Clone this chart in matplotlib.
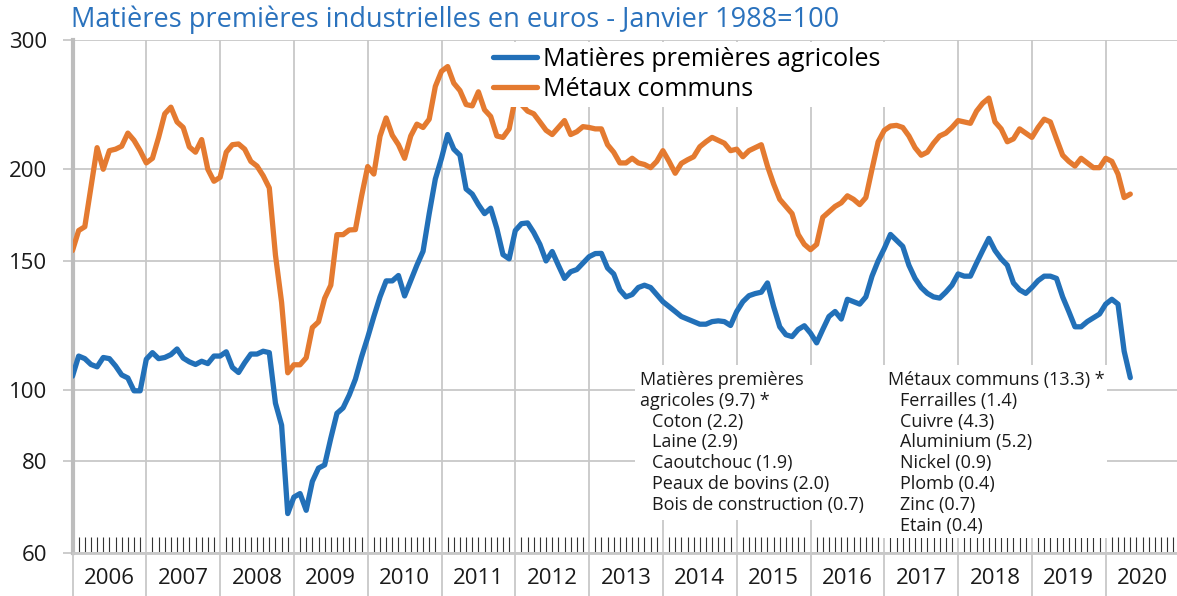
import numpy as np
import matplotlib.pyplot as plt
import matplotlib.transforms as mtransforms
from matplotlib.patches import Rectangle

plt.rcParams['font.family'] = ['Open Sans', 'DejaVu Sans']

# indices mensuels (janvier 1988 = 100), de janvier 2006 a mai 2020
annee_debut = 2006

agricoles = [
    104.5, 111.3, 110.4, 108.4, 107.6, 110.8, 110.4, 107.9, 104.9, 103.9, 99.8, 99.8,    # 2006
    110.2, 112.5, 110.4, 110.8, 111.8, 113.8, 110.6, 109.3, 108.4, 109.5, 108.7, 111.3,  # 2007
    111.3, 112.8, 107.4, 105.7, 109.0, 112.0, 112.0, 113.0, 112.5, 96.0, 89.6, 67.9,     # 2008
    71.5, 72.3, 68.6, 75.1, 78.3, 79.1, 86.0, 93.0, 94.6, 98.5, 103.5, 111.0,            # 2009
    118.0, 126.0, 134.0, 140.9, 140.9, 143.3, 134.4, 141.0, 148.0, 154.6, 174.0, 194.0,  # 2010
    207.0, 223.0, 213.0, 209.0, 188.0, 185.0, 179.0, 174.0, 177.0, 166.0, 153.0, 151.0,  # 2011
    165.0, 168.6, 169.0, 164.0, 158.0, 150.0, 154.5, 148.0, 142.0, 145.0, 146.0, 149.0,  # 2012
    152.0, 153.5, 153.6, 146.7, 144.0, 137.0, 134.0, 135.0, 138.0, 139.0, 138.0, 135.0,  # 2013
    132.0, 130.0, 128.0, 126.0, 125.0, 124.0, 123.0, 123.0, 124.0, 124.3, 124.0, 122.5,  # 2014
    128.0, 132.0, 134.5, 135.4, 136.0, 140.0, 130.0, 122.0, 119.0, 118.3, 121.0, 122.4,  # 2015
    119.6, 116.0, 121.0, 126.0, 128.0, 125.0, 133.0, 132.0, 131.0, 134.0, 143.0, 150.0,  # 2016
    156.0, 163.0, 160.0, 157.0, 148.0, 142.0, 138.0, 135.5, 134.0, 133.5, 136.0, 139.0,  # 2017
    144.0, 143.0, 143.0, 149.0, 155.0, 161.0, 155.0, 151.0, 148.0, 140.0, 137.0, 135.5,  # 2018
    138.0, 141.0, 143.0, 143.0, 142.0, 134.0, 128.0, 122.0, 122.0, 124.0, 125.5, 127.0,  # 2019
    131.0, 133.0, 131.0, 113.0, 104.0,                                                    # 2020
]

metaux = [
    155.0, 165.0, 167.0, 189.0, 214.0, 200.0, 212.0, 213.0, 215.0, 224.0, 219.0, 212.0,  # 2006
    204.0, 207.0, 221.0, 238.0, 243.0, 232.0, 228.0, 214.5, 211.0, 219.5, 200.0, 192.6,  # 2007
    195.0, 211.0, 216.0, 216.5, 213.0, 205.0, 202.0, 196.0, 188.6, 152.8, 131.7, 105.6,  # 2008
    108.3, 108.3, 110.7, 121.7, 123.9, 133.4, 139.0, 162.9, 162.9, 165.3, 165.5, 183.8,  # 2009
    201.7, 197.0, 221.8, 234.9, 222.5, 216.0, 207.0, 222.0, 230.4, 228.0, 234.0, 259.4,  # 2010
    272.0, 276.0, 262.0, 256.0, 245.0, 244.0, 255.0, 241.0, 236.0, 222.0, 221.0, 227.0,  # 2011
    250.0, 245.0, 240.0, 238.0, 232.0, 226.0, 223.0, 228.0, 233.0, 223.0, 225.0, 228.6,  # 2012
    228.0, 227.0, 227.0, 216.0, 211.0, 204.0, 204.0, 207.0, 204.0, 203.0, 201.0, 205.0,  # 2013
    212.0, 205.0, 197.5, 203.7, 206.0, 208.0, 214.6, 218.0, 221.0, 219.0, 217.0, 212.0,  # 2014
    213.0, 208.0, 212.0, 214.0, 216.0, 202.0, 191.0, 182.0, 178.0, 174.0, 163.0, 158.0,  # 2015
    155.4, 158.0, 172.0, 175.0, 178.0, 180.0, 184.0, 182.0, 179.0, 183.0, 200.0, 218.0,  # 2016
    226.0, 229.0, 229.5, 228.0, 222.0, 214.0, 209.0, 211.0, 217.0, 222.0, 224.0, 228.0,  # 2017
    233.0, 232.0, 231.0, 240.0, 246.0, 250.0, 232.0, 227.0, 218.0, 220.0, 227.0, 224.0,  # 2018
    221.0, 228.0, 234.0, 232.0, 220.0, 209.0, 205.0, 202.0, 207.0, 204.0, 201.0, 201.0,  # 2019
    207.0, 205.0, 197.0, 183.0, 185.0,                                                    # 2020
]

y_ticks = [60, 80, 100, 150, 200, 300]
annees = list(range(2006, 2021))

titre = "Matières premières industrielles en euros - Janvier 1988=100"
noms_series = ["Matières premières agricoles", "Métaux communs"]

notes_agri_titre = ["Matières premières", "agricoles (9.7) *"]
notes_agri = ["Coton (2.2)", "Laine (2.9)", "Caoutchouc (1.9)",
              "Peaux de bovins (2.0)", "Bois de construction (0.7)"]
notes_metaux_titre = ["Métaux communs (13.3) *"]
notes_metaux = ["Ferrailles (1.4)", "Cuivre (4.3)", "Aluminium (5.2)", "Nickel (0.9)",
                "Plomb (0.4)", "Zinc (0.7)", "Etain (0.4)"]

bleu = "#2270b8"
orange = "#e47a30"
gris = "#c8c8c8"

W, H = 1177, 596
mois = annee_debut + np.arange(len(agricoles)) / 12

fig = plt.figure(figsize=(W / 100, H / 100), dpi=100)
# zone du graphique en pixels : x 72.5 -> 1177, y 40 -> 553
ax = fig.add_axes([72.5 / W, 43 / H, 1104.5 / W, 513 / H])

ax.plot(mois, agricoles, color=bleu, lw=3.8, solid_joinstyle='round', solid_capstyle='round',
        label=noms_series[0], zorder=3)
ax.plot(mois, metaux, color=orange, lw=3.8, solid_joinstyle='round', solid_capstyle='round',
        label=noms_series[1], zorder=3)

# axes
ax.set_yscale('log')
ax.set_ylim(60, 300)
ax.set_xlim(2006, 2006 + 1104.5 / 73.8)
ax.set_yticks(y_ticks)
ax.set_yticklabels([str(v) for v in y_ticks])
ax.set_yticks([], minor=True)
ax.set_xticks(annees)
ax.set_xticklabels([])
ax.set_xticks([a + m / 12 for a in annees for m in range(1, 12)], minor=True)

ax.tick_params(axis='y', which='major', direction='out', length=7, width=1.3, color=gris,
               pad=11, labelsize=16, labelcolor='#1a1a1a')
ax.tick_params(axis='x', which='major', direction='out', length=31, width=1.3, color=gris)
ax.tick_params(axis='x', which='minor', direction='in', length=11.5, width=0.8, color='#333333')

ax.set_axisbelow(True)
ax.grid(which='major', color=gris, lw=1.3)

for s in ['top', 'right']:
    ax.spines[s].set_visible(False)
ax.spines['left'].set_color('#bdbdbd')
ax.spines['left'].set_linewidth(3)
ax.spines['bottom'].set_color(gris)
ax.spines['bottom'].set_linewidth(2)

# annees centrees entre les traits
trans = mtransforms.blended_transform_factory(ax.transData, ax.transAxes)
for a in annees:
    ax.text(a + 0.5, -0.049, str(a), transform=trans, ha='center', va='center',
            fontsize=16, color='#1a1a1a')

# titre
fig.text(71 / W, 1 - 20 / H, titre, fontsize=19.5, color='#2a72bd', ha='left', va='center')

# legende
ax.legend(loc='upper left', bbox_to_anchor=(0.376, 0.996), fontsize=18, frameon=True,
          facecolor='white', edgecolor='none', framealpha=1, fancybox=False,
          handlelength=1.75, handletextpad=0.25, labelspacing=0.18, borderpad=0.2,
          borderaxespad=0)

# encadre des ponderations (fond blanc sur la grille)
def px_ax(x, y):
    return (x - 72.5) / 1104.5, (553 - y) / 513

x0, y0 = px_ax(635, 520)
x1, y1 = px_ax(1107, 365)
ax.add_patch(Rectangle((x0, y0), x1 - x0, y1 - y0, transform=ax.transAxes,
                       facecolor='white', edgecolor='none', zorder=1))
x0, y0 = px_ax(880, 538)
ax.add_patch(Rectangle((x0, y0), x1 - x0, px_ax(0, 520)[1] - y0, transform=ax.transAxes,
                       facecolor='white', edgecolor='none', zorder=1))

pas = 20.8
def colonne(x, titres, items):
    y = 380
    for t in titres:
        fig.text(x / W, 1 - y / H, t, fontsize=13, color='#1a1a1a', va='center')
        y += pas
    for t in items:
        fig.text((x + 12) / W, 1 - y / H, t, fontsize=13, color='#1a1a1a', va='center')
        y += pas

colonne(640, notes_agri_titre, notes_agri)
colonne(888, notes_metaux_titre, notes_metaux)

fig.savefig('out.png', dpi=100)
